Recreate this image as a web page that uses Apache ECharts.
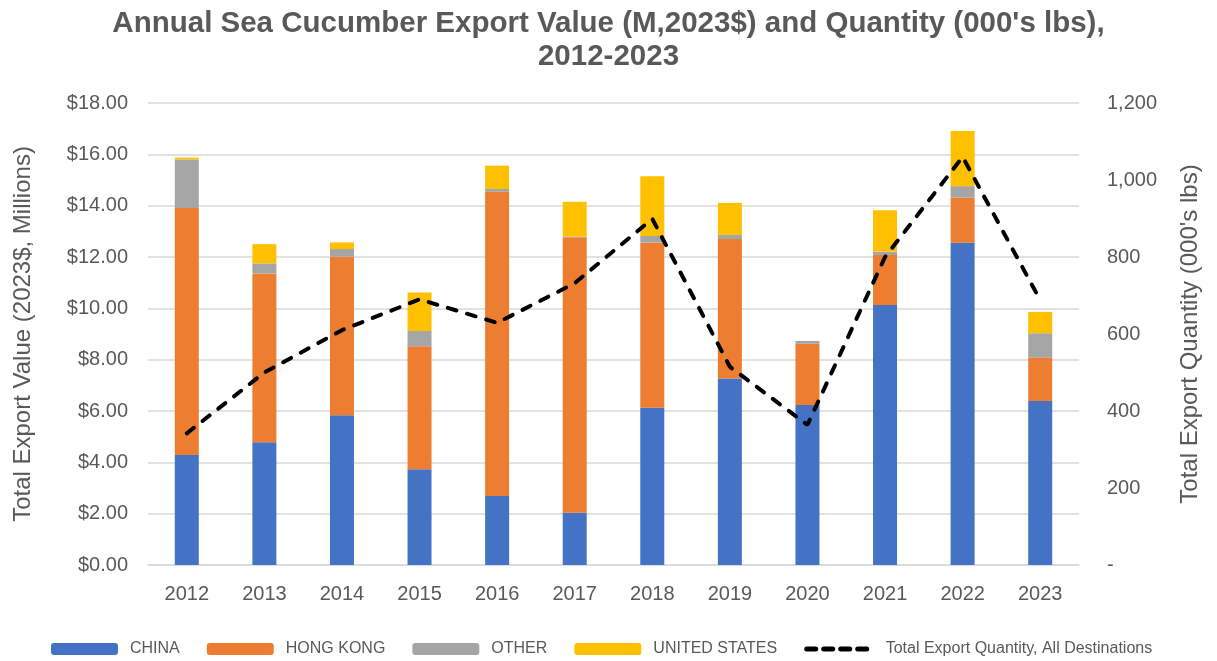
<!DOCTYPE html>
<html>
<head>
<meta charset="utf-8">
<script src="https://cdn.jsdelivr.net/npm/echarts@6/dist/echarts.min.js"></script>
<style>
	html, body { margin: 0; padding: 0; background: #fff; }
	#chart { width: 1217px; height: 661px; }
</style>
</head>
<body>
<div id="chart"></div>
<script>
var years = ['2012', '2013', '2014', '2015', '2016', '2017', '2018', '2019', '2020', '2021', '2022', '2023'];
// value, millions of 2023$
var china = [4.29, 4.78, 5.83, 3.73, 2.69, 2.04, 6.13, 7.27, 6.23, 10.13, 12.56, 6.39];
var hongKong = [9.62, 6.58, 6.18, 4.79, 11.85, 10.73, 6.43, 5.43, 2.39, 1.95, 1.75, 1.69];
var other = [1.89, 0.39, 0.30, 0.60, 0.11, 0.03, 0.26, 0.16, 0.11, 0.13, 0.45, 0.95];
var unitedStates = [0.07, 0.75, 0.26, 1.50, 0.91, 1.35, 2.33, 1.25, 0, 1.61, 2.15, 0.83];
// quantity, 000's lbs
var totalQty = [342, 500, 610, 690, 629, 732, 899, 515, 364, 800, 1060, 688];

var leftTicks = {min: 0, max: 18, interval: 2};
var rightTicks = {min: 0, max: 1200, interval: 200};

var gray = '#595959';
var font = "'Liberation Sans', Arial, sans-serif";

function barSeries(name, data, color){
	return {
		name: name,
		type: 'bar',
		stack: 'value',
		barWidth: 24,
		data: data,
		itemStyle: {color: color},
		emphasis: {disabled: true}
	};
}

var chart = echarts.init(document.getElementById('chart'));
chart.setOption({
	animation: false,
	textStyle: {fontFamily: font, color: gray},
	title: {
		text: "Annual Sea Cucumber Export Value (M,2023$) and Quantity (000's lbs),\n2012-2023",
		left: 'center',
		top: 2,
		textStyle: {
			fontFamily: font,
			fontSize: 29.5,
			fontWeight: 'bold',
			color: gray,
			lineHeight: 33
		}
	},
	legend: {
		left: 46,
		top: 636,
		itemWidth: 67,
		itemHeight: 12,
		itemGap: 27,
		textStyle: {fontFamily: font, fontSize: 16, color: gray, padding: [0, 0, 0, 7]},
		selectedMode: false,
		data: ['CHINA', 'HONG KONG', 'OTHER', 'UNITED STATES', {
			name: 'Total Export Quantity, All Destinations',
			itemStyle: {opacity: 0},
			lineStyle: {width: 5, type: [9, 8], cap: 'round', color: '#000'}
		}]
	},
	grid: {left: 148, right: 138, top: 103, bottom: 96},
	xAxis: {
		type: 'category',
		data: years,
		axisTick: {show: false},
		axisLine: {lineStyle: {color: '#d9d9d9', width: 1.5}},
		axisLabel: {fontSize: 20, color: gray, margin: 19, fontFamily: font}
	},
	yAxis: [{
		type: 'value',
		min: leftTicks.min,
		max: leftTicks.max,
		interval: leftTicks.interval,
		name: 'Total Export Value (2023$, Millions)',
		nameLocation: 'middle',
		nameGap: 113,
		nameTextStyle: {fontSize: 24, color: gray, fontFamily: font},
		axisLabel: {
			fontSize: 20, color: gray, margin: 20, fontFamily: font,
			formatter: function(v){ return '$' + v.toFixed(2); }
		},
		splitLine: {lineStyle: {color: '#d9d9d9', width: 1.5}}
	}, {
		type: 'value',
		min: rightTicks.min,
		max: rightTicks.max,
		interval: rightTicks.interval,
		name: "Total Export Quantity (000's lbs)",
		nameLocation: 'middle',
		nameGap: 99,
		nameTextStyle: {fontSize: 24, color: gray, fontFamily: font},
		axisLabel: {
			fontSize: 20, color: gray, margin: 28, fontFamily: font,
			formatter: function(v){ return v === 0 ? '-' : v.toLocaleString('en-US'); }
		},
		splitLine: {show: false}
	}],
	series: [
		barSeries('CHINA', china, '#4472C4'),
		barSeries('HONG KONG', hongKong, '#ED7D31'),
		barSeries('OTHER', other, '#A5A5A5'),
		barSeries('UNITED STATES', unitedStates, '#FFC000'),
		{
			name: 'Total Export Quantity, All Destinations',
			type: 'line',
			yAxisIndex: 1,
			data: totalQty,
			symbol: 'none',
			z: 5,
			lineStyle: {color: '#000', width: 4, type: [9, 11], cap: 'round'},
			itemStyle: {color: '#000'},
			emphasis: {disabled: true}
		}
	]
});
</script>
</body>
</html>
